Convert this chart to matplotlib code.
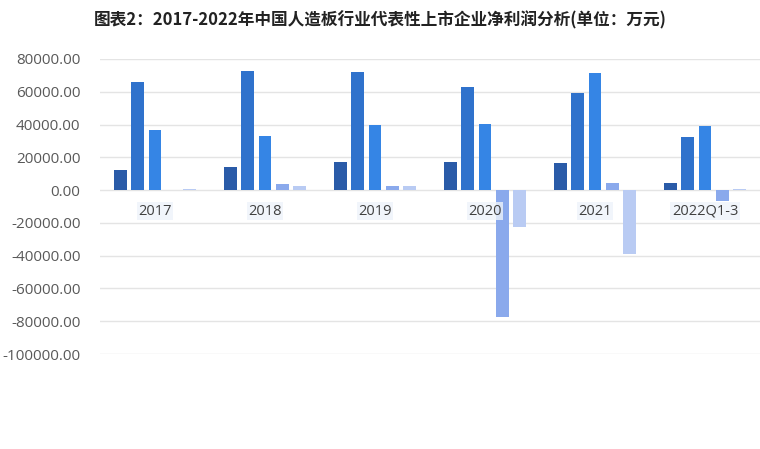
import numpy as np
import matplotlib
matplotlib.use("Agg")
import matplotlib.pyplot as plt

plt.rcParams['font.family'] = ['Noto Sans CJK SC', 'DejaVu Sans']

# categories and five company series (万元)
categories = ['2017', '2018', '2019', '2020', '2021', '2022Q1-3']
s1 = [12200, 13900, 17100, 17300, 16700, 4500]
s2 = [65800, 72500, 72000, 62700, 59400, 32200]
s3 = [36400, 33000, 39500, 40300, 71300, 38900]
s4 = [0, 3700, 2400, -77400, 4100, -6500]
s5 = [500, 2400, 2400, -22400, -38700, 600]
yticks = [80000, 60000, 40000, 20000, 0, -20000, -40000, -60000, -80000, -100000]

series = [s1, s2, s3, s4, s5]
colors = ['#2a5ba8', '#2f72cc', '#3585e5', '#8aa9ec', '#b9cbf3']

fig = plt.figure(figsize=(7.6, 4.49), dpi=100)
ax = fig.add_axes([100 / 760, 1 - 354 / 449, 660 / 760, (354 - 59) / 449])

x = np.arange(len(categories))
step = 0.155
width = 0.118
for i, (vals, c) in enumerate(zip(series, colors)):
    ax.bar(x + (i - 2) * step, vals, width=width, color=c, zorder=3)

ax.set_xlim(-0.5, len(categories) - 0.5)
ax.set_ylim(-100000, 80000)
ax.set_yticks(yticks)
ax.set_yticklabels(["{:.2f}".format(v) for v in yticks], fontsize=11, color='#595959',
                   family='Open Sans')
ax.yaxis.grid(True, color='#e4e4e4', linewidth=1, zorder=0)
ax.set_xticks([])
ax.tick_params(axis='y', length=0, pad=14)
for s in ax.spines.values():
    s.set_visible(False)

# category labels sit just under the zero line
for xi, lab in zip(x, categories):
    ax.text(xi, -12800, lab, ha='center', va='center', fontsize=10.5, color='#404040',
            family='Open Sans', zorder=4,
            bbox=dict(boxstyle='square,pad=0.1', facecolor='#eef3fa', edgecolor='none', alpha=0.8))

fig.text(380 / 760, 1 - 20 / 449, "图表2：2017-2022年中国人造板行业代表性上市企业净利润分析(单位：万元)",
         ha='center', va='center', fontsize=12, fontweight='bold', color='#222222')

fig.savefig('out.png', dpi=100)
